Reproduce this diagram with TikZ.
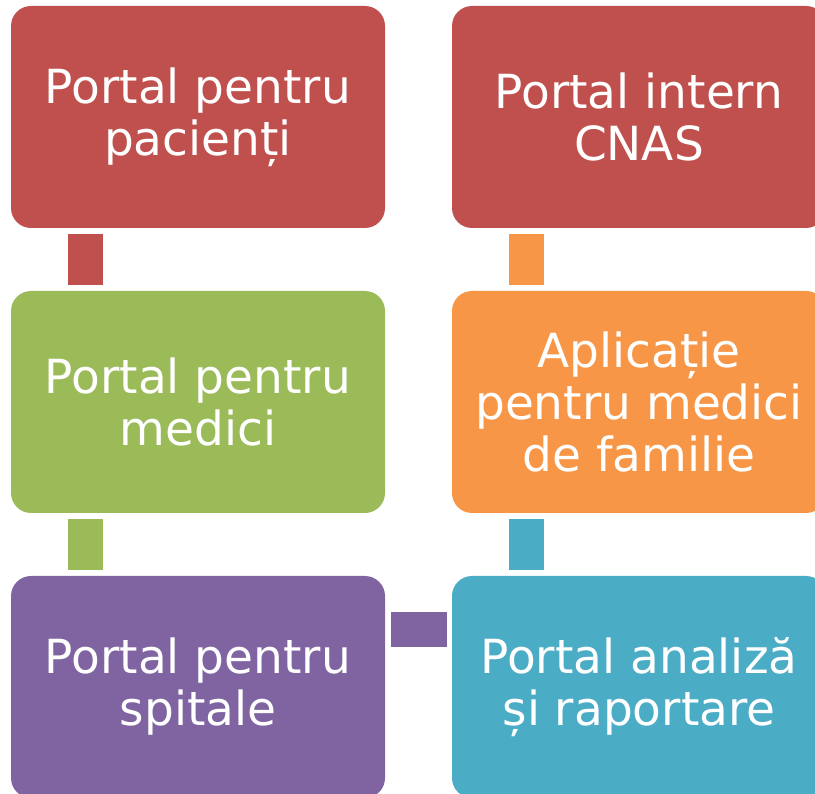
\documentclass[tikz,border=0pt]{standalone}
\usepackage{fontspec}
\setmainfont{DejaVu Sans}
\usepackage{tikz}

\definecolor{boxred}{HTML}{C0504D}
\definecolor{boxgreen}{HTML}{9BBB59}
\definecolor{boxpurple}{HTML}{8064A2}
\definecolor{boxblue}{HTML}{4BACC6}
\definecolor{boxorange}{HTML}{F79646}

\begin{document}
\begin{tikzpicture}[x=1pt, y=-1pt,
  every node/.style={minimum width=374pt, minimum height=222pt, outer sep=0pt, inner sep=0pt,
    rounded corners=20pt, text=white, align=center, font=\fontsize{47}{52}\selectfont},
  link/.style={line width=35pt}]
\useasboundingbox (0,0) rectangle (815,794);
\clip (0,0) rectangle (815,794);

\node[fill=boxred] (pac) at (198,117) {Portal pentru\\pacienți};
\node[fill=boxgreen] (med) at (198,402) {Portal pentru\\medici};
\node[fill=boxpurple] (spit) at (198,687) {Portal pentru\\spitale};

\node[fill=boxred] (cnas) at (639,117) {Portal intern\\CNAS};
\node[fill=boxorange] (fam) at (639,402) {Aplicație\\pentru medici\\de familie};
\node[fill=boxblue] (anal) at (639,687) {Portal analiză\\și raportare};

% legaturi
\draw[link, boxred] ([xshift=-112.5pt, yshift=-6pt]pac.south) -- ([xshift=-112.5pt, yshift=6pt]med.north);
\draw[link, boxgreen] ([xshift=-112.5pt, yshift=-6pt]med.south) -- ([xshift=-112.5pt, yshift=6pt]spit.north);
\draw[link, boxpurple] ([xshift=6pt, yshift=57.5pt]spit.east) -- ([xshift=-5pt, yshift=57.5pt]anal.west);
\draw[link, boxblue] ([xshift=-112.5pt, yshift=6pt]anal.north) -- ([xshift=-112.5pt, yshift=-6pt]fam.south);
\draw[link, boxorange] ([xshift=-112.5pt, yshift=6pt]fam.north) -- ([xshift=-112.5pt, yshift=-6pt]cnas.south);
\end{tikzpicture}
\end{document}
